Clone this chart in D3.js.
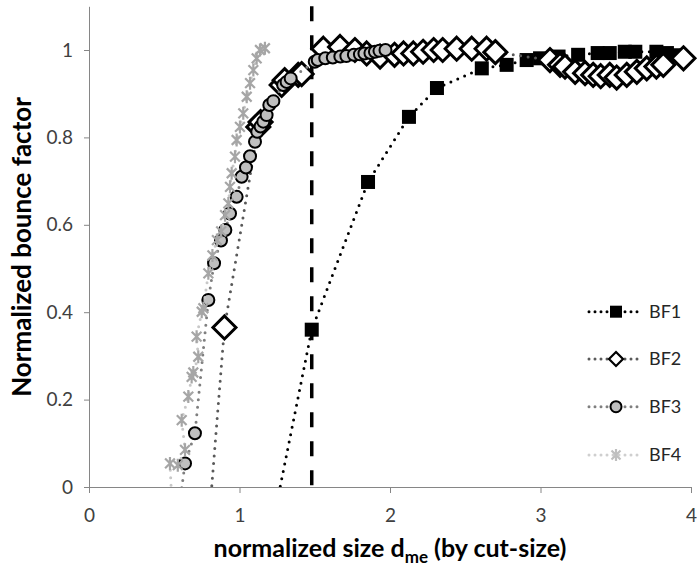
<!DOCTYPE html>
<html><head><meta charset="utf-8">
<script src="https://cdn.jsdelivr.net/npm/d3@7"></script>
<style>body{margin:0;background:#fff}svg{display:block}</style>
</head><body>
<svg id="chart" width="698" height="566"></svg>
<script>
// ---- data ----
const seriesNames = ["BF1", "BF2", "BF3", "BF4"];

const bf1X = [1.153, 1.48, 1.854, 2.126, 2.312, 2.61, 2.775, 2.908, 2.997, 3.12, 3.25, 3.38, 3.46, 3.56, 3.63, 3.77, 3.84, 3.90];
const bf1Y = [-0.2, 0.36, 0.698, 0.847, 0.913, 0.958, 0.966, 0.977, 0.981, 0.985, 0.989, 0.993, 0.993, 0.996, 0.996, 0.996, 0.993, 0.988];

const bf2X = [0.792, 0.90, 1.125, 1.14, 1.28, 1.30, 1.39, 1.413, 1.557, 1.668, 1.767, 1.845, 1.934, 2.03, 2.09, 2.155, 2.22, 2.29, 2.35, 2.443, 2.543, 2.642, 2.70, 3.063, 3.13, 3.163, 3.23, 3.296, 3.35, 3.40, 3.46, 3.506, 3.573, 3.64, 3.706, 3.77, 3.816, 3.95];
const bf2Y = [-0.1, 0.365, 0.824, 0.835, 0.92, 0.931, 0.943, 0.945, 1.003, 1.007, 1.0, 0.992, 0.985, 0.989, 0.992, 0.992, 0.996, 1.0, 1.0, 1.003, 1.003, 1.003, 0.995, 0.977, 0.966, 0.962, 0.95, 0.947, 0.943, 0.94, 0.943, 0.937, 0.943, 0.95, 0.958, 0.962, 0.966, 0.981];

const bf3X = [0.59, 0.638, 0.704, 0.793, 0.831, 0.877, 0.906, 0.937, 0.981, 1.014, 1.043, 1.07, 1.103, 1.118, 1.14, 1.158, 1.18, 1.198, 1.225, 1.29, 1.313, 1.34, 1.50, 1.52, 1.57, 1.62, 1.67, 1.71, 1.76, 1.80, 1.83, 1.87, 1.90, 1.93, 1.97];
const bf3Y = [-0.07, 0.054, 0.123, 0.428, 0.512, 0.564, 0.588, 0.626, 0.664, 0.71, 0.731, 0.757, 0.79, 0.813, 0.825, 0.836, 0.851, 0.874, 0.883, 0.92, 0.927, 0.935, 0.973, 0.977, 0.981, 0.983, 0.985, 0.986, 0.989, 0.990, 0.992, 0.993, 0.996, 0.998, 1.0];

const bf4X = [0.55, 0.538, 0.59, 0.638, 0.616, 0.66, 0.682, 0.693, 0.726, 0.715, 0.749, 0.76, 0.793, 0.82, 0.85, 0.878, 0.904, 0.926, 0.937, 0.948, 0.97, 0.981, 1.003, 1.025, 1.048, 1.07, 1.092, 1.114, 1.136, 1.169];
const bf4Y = [-0.03, 0.054, 0.05, 0.085, 0.153, 0.207, 0.252, 0.262, 0.298, 0.344, 0.401, 0.409, 0.489, 0.53, 0.565, 0.585, 0.622, 0.649, 0.687, 0.718, 0.756, 0.794, 0.824, 0.855, 0.893, 0.924, 0.954, 0.981, 1.0, 1.004];

const cutSize = 1.48;
const xTickValues = [0, 1, 2, 3, 4];
const yTickValues = [0, 0.2, 0.4, 0.6, 0.8, 1];
const xDomain = [0, 4];
const yDomain = [0, 1.1];

// ---- chart ----
const svg = d3.select("#chart");
const FONT = "Lato, 'Open Sans', sans-serif";
const x = d3.scaleLinear().domain(xDomain).range([89, 691]);
const y = d3.scaleLinear().domain(yDomain).range([487, 6.3]);

svg.append("defs").append("clipPath").attr("id", "plotClip")
  .append("rect").attr("x", x(0)).attr("y", y(yDomain[1]))
  .attr("width", x(4) - x(0)).attr("height", y(0) - y(yDomain[1]));

// axes
const xAxis = svg.append("g").attr("transform", `translate(0,${y(0)})`)
  .call(d3.axisBottom(x).tickValues(xTickValues).tickSize(6).tickSizeOuter(0).tickPadding(16).tickFormat(d3.format("d")));
const yAxis = svg.append("g").attr("transform", `translate(${x(0)},0)`)
  .call(d3.axisLeft(y).tickValues(yTickValues).tickSize(5).tickSizeOuter(0).tickPadding(11).tickFormat(d => d === 0 || d === 1 ? String(d) : d.toFixed(1)));
[xAxis, yAxis].forEach(g => {
  g.select(".domain").attr("stroke", "#868686").attr("stroke-width", 1);
  g.selectAll(".tick line").attr("stroke", "#868686");
  g.selectAll(".tick text").attr("fill", "#404040").style("font-family", FONT).style("font-size", "19px");
});

// cut-size dashed line
svg.append("line")
  .attr("x1", x(cutSize)).attr("x2", x(cutSize))
  .attr("y1", y(yDomain[1])).attr("y2", y(0))
  .attr("stroke", "#000").attr("stroke-width", 3.5)
  .attr("stroke-dasharray", "15 14");

// markers
function drawMarker(g, type, cx, cy, s) {
  if (type === "square") {
    g.append("rect").attr("x", cx - s / 2).attr("y", cy - s / 2).attr("width", s).attr("height", s).attr("fill", "#000");
  } else if (type === "diamond") {
    const h = s / 2;
    g.append("path").attr("d", `M${cx},${cy - h}L${cx + h},${cy}L${cx},${cy + h}L${cx - h},${cy}Z`)
      .attr("fill", "#fff").attr("stroke", "#000").attr("stroke-width", s > 16 ? 3 : 2.2);
  } else if (type === "circle") {
    g.append("circle").attr("cx", cx).attr("cy", cy).attr("r", s / 2)
      .attr("fill", "#bfbfbf").attr("stroke", "#000").attr("stroke-width", 2);
  } else if (type === "asterisk") {
    const h = s / 2, d = h * 0.75;
    g.append("path").attr("d", `M${cx},${cy - h}V${cy + h}M${cx - d},${cy - d}L${cx + d},${cy + d}M${cx - d},${cy + d}L${cx + d},${cy - d}`)
      .attr("stroke", g.attr("data-color")).attr("stroke-width", 2.2).attr("fill", "none");
  }
}

const series = [
  { name: seriesNames[0], xs: bf1X, ys: bf1Y, line: "#000000", marker: "square", size: 14, legSize: 12, markColor: "#000" },
  { name: seriesNames[1], xs: bf2X, ys: bf2Y, line: "#595959", marker: "diamond", size: 23, legSize: 14, markColor: "#000" },
  { name: seriesNames[2], xs: bf3X, ys: bf3Y, line: "#7f7f7f", marker: "circle", size: 12, legSize: 11, markColor: "#000" },
  { name: seriesNames[3], xs: bf4X, ys: bf4Y, line: "#c8c8c8", marker: "asterisk", size: 13, legSize: 12, markColor: "#a6a6a6" }
];

const lineGen = d3.line().x(d => x(d[0])).y(d => y(d[1]));

series.forEach(s => {
  const pts = s.xs.map((v, i) => [v, s.ys[i]]);
  const g = svg.append("g");
  g.append("path").attr("d", lineGen(pts)).attr("clip-path", "url(#plotClip)")
    .attr("fill", "none").attr("stroke", s.line).attr("stroke-width", 3)
    .attr("stroke-linecap", "round").attr("stroke-dasharray", "0 7.5");
  const mg = g.append("g").attr("data-color", s.markColor);
  pts.filter(p => p[1] >= 0).forEach(p => drawMarker(mg, s.marker, x(p[0]), y(p[1]), s.size));
});

// legend
const legendY = [311.7, 359, 406.7, 455];
series.forEach((s, i) => {
  const g = svg.append("g");
  const ly = legendY[i];
  g.append("line").attr("x1", 589).attr("x2", 640).attr("y1", ly).attr("y2", ly)
    .attr("stroke", i === 3 ? "#cfcfcf" : s.line).attr("stroke-width", 3)
    .attr("stroke-linecap", "round").attr("stroke-dasharray", "0 6");
  const mg = g.append("g").attr("data-color", i === 3 ? "#bfbfbf" : s.markColor);
  drawMarker(mg, s.marker, 616, ly, s.legSize);
  g.append("text").attr("x", 649).attr("y", ly).attr("dy", "0.36em")
    .attr("fill", "#262626").style("font-family", FONT).style("font-size", "18px").text(s.name);
});

// axis titles
const xt = svg.append("text").attr("x", 390).attr("y", 557).attr("text-anchor", "middle")
  .style("font-family", FONT).style("font-size", "25px").style("font-weight", "bold").attr("fill", "#000");
xt.append("tspan").text("normalized size d");
xt.append("tspan").attr("dy", 6).style("font-size", "17px").text("me");
xt.append("tspan").attr("dy", -6).text(" (by cut-size)");

svg.append("text").attr("transform", `translate(31,247) rotate(-90)`).attr("text-anchor", "middle")
  .style("font-family", FONT).style("font-size", "26px").style("font-weight", "bold").attr("fill", "#000")
  .text("Normalized bounce factor");
</script>
</body></html>
